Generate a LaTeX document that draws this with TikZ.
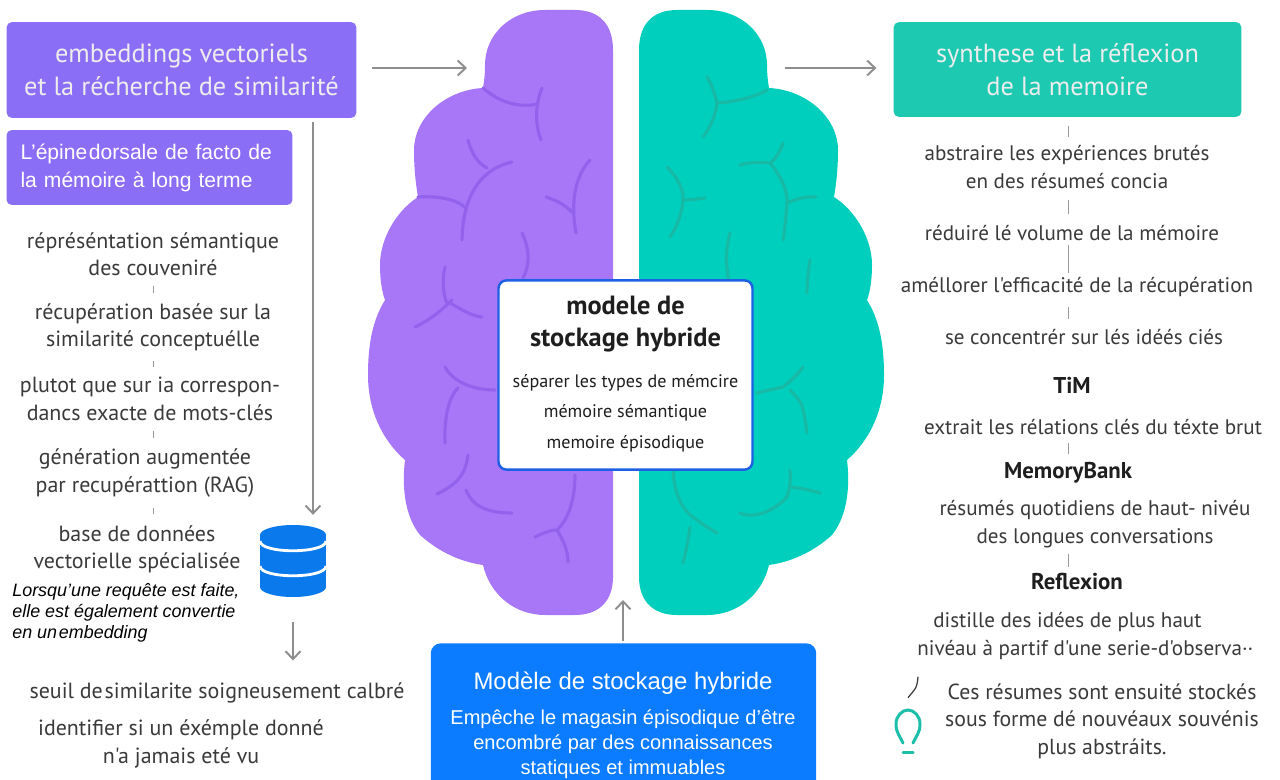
\documentclass[tikz,border=0pt]{standalone}
\usepackage{fontspec}
\setmainfont{Liberation Sans}
\newfontfamily\gfont{PT Sans}
\usetikzlibrary{calc,arrows.meta}

\definecolor{boxpurple}{HTML}{8B6EF6}
\definecolor{brainpurple}{HTML}{A877F8}
\definecolor{foldpurple}{HTML}{9362EC}
\definecolor{boxteal}{HTML}{1EC9B1}
\definecolor{brainteal}{HTML}{00CFBD}
\definecolor{foldteal}{HTML}{17B9A5}
\definecolor{hybblue}{HTML}{0B7BFF}
\definecolor{dbblue}{HTML}{0A79EC}
\definecolor{frameblue}{HTML}{1E60E4}
\definecolor{txtgray}{HTML}{3A3A3A}
\definecolor{txtdark}{HTML}{1E1E1E}
\definecolor{arrgray}{HTML}{8E8E8E}
\definecolor{tickgray}{HTML}{9A9A9A}
\definecolor{bulbteal}{HTML}{1DBFAA}

% one pixel of the 1280 x 780 canvas
\newdimen\pxu
\pxu=0.5669pt

% short link mark between two stacked text blocks, on a given column
\newcommand\tk[4]{%
  \draw[tickln] ($(#1.south -| #3)!#4!(#2.north -| #3)$) -- ($(#2.north -| #3)!#4!(#1.south -| #3)$);}

% outline of the left hemisphere (the right one is its mirror image)
\newcommand\hemipath{%
  (613,50) .. controls (613,25) and (600,10) .. (575,10) -- (545,10)
  .. controls (510,10) and (485,35) .. (485,65) .. controls (485,75) and (484,82) .. (483,88)
  .. controls (445,90) and (414,118) .. (414,150) .. controls (414,170) and (416,185) .. (418,197)
  .. controls (395,212) and (380,240) .. (380,265) .. controls (380,280) and (382,292) .. (385,300)
  .. controls (374,318) and (368,340) .. (368,375) .. controls (368,410) and (382,440) .. (405,460)
  .. controls (402,485) and (404,515) .. (420,535) .. controls (440,553) and (462,562) .. (483,565)
  .. controls (490,595) and (515,615) .. (545,615) -- (575,615)
  .. controls (600,615) and (613,600) .. (613,577) -- cycle}

\tikzset{
  gtext/.style={text=txtgray, font=\gfont\fontsize{12}{15.6}\selectfont, align=center, inner sep=0pt},
  ltext/.style={gtext, font=\gfont\fontsize{12.5}{15.6}\selectfont},
  gbold/.style={text=txtdark, font=\gfont\bfseries\fontsize{13}{15}\selectfont, inner sep=0pt},
  tickln/.style={draw=tickgray, line width=0.55pt},
  arr/.style={draw=arrgray, line width=1.1pt, -{Straight Barb[length=4.5pt,width=8.5pt]}},
  hdrbox/.style={rounded corners=5\pxu, text=white!93!black, align=center, inner sep=0pt,
    font=\gfont\fontsize{15}{18.7}\selectfont},
  foldP/.style={draw=foldpurple, line width=1.8pt, line cap=round},
  foldT/.style={draw=foldteal, line width=1.8pt, line cap=round},
}

\begin{document}
\begin{tikzpicture}[x=0.02cm, y=-0.02cm]
\clip (0,0) rectangle (1280,780);
\fill[white] (0,0) rectangle (1280,780);

% ---- brain ----
\fill[brainpurple] \hemipath;
\begin{scope}[shift={(1252,0)}, xscale=-1]
  \fill[brainteal] \hemipath;
\end{scope}

% folds, left hemisphere
\draw[foldP] (483,88) .. controls (500,103) and (520,108) .. (537,104);
\draw[foldP] (542,88) .. controls (535,105) and (535,125) .. (541,140);
\draw[foldP] (468,140) .. controls (472,155) and (478,163) .. (487,168);
\draw[foldP] (512,162) .. controls (485,168) and (463,190) .. (462,240);
\draw[foldP] (418,197) .. controls (435,196) and (455,198) .. (466,208);
\draw[foldP] (590,160) .. controls (576,175) and (570,200) .. (576,233);
\draw[foldP] (546,197) .. controls (556,200) and (565,205) .. (572,212);
\draw[foldP] (522,233) .. controls (530,250) and (530,265) .. (523,278);
\draw[foldP] (445,267) .. controls (442,280) and (443,295) .. (447,303);
\draw[foldP] (415,327) .. controls (430,320) and (442,310) .. (452,300);
\draw[foldP] (450,303) .. controls (462,310) and (472,316) .. (482,317);
\draw[foldP] (445,367) .. controls (452,380) and (470,390) .. (495,390);
\draw[foldP] (458,388) .. controls (448,398) and (444,420) .. (445,443);
\draw[foldP] (468,455) .. controls (466,470) and (462,482) .. (437,494);
\draw[foldP] (466,490) .. controls (472,505) and (485,513) .. (512,513);
\draw[foldP] (535,537) .. controls (545,532) and (552,530) .. (557,530);
\draw[foldP] (575,475) .. controls (575,500) and (568,520) .. (557,530) .. controls (563,540) and (568,550) .. (568,562);

% folds, right hemisphere
\draw[foldT] (707,77) .. controls (714,88) and (716,100) .. (717,103) .. controls (716,115) and (710,128) .. (703,137);
\draw[foldT] (717,103) .. controls (735,102) and (755,97) .. (767,90);
\draw[foldT] (783,143) .. controls (780,152) and (775,160) .. (770,163);
\draw[foldT] (740,165) .. controls (750,162) and (762,162) .. (770,163) .. controls (780,175) and (788,190) .. (787,203) .. controls (786,215) and (785,228) .. (783,240);
\draw[foldT] (787,203) .. controls (796,199) and (806,196) .. (816,197);
\draw[foldT] (667,167) .. controls (678,178) and (684,190) .. (683,200) .. controls (682,215) and (676,228) .. (670,237);
\draw[foldT] (683,200) .. controls (690,200) and (698,199) .. (705,198);
\draw[foldT] (730,233) .. controls (726,248) and (726,262) .. (727,267) .. controls (728,280) and (730,290) .. (733,300);
\draw[foldT] (810,260) .. controls (808,272) and (807,283) .. (807,293);
\draw[foldT] (757,393) .. controls (768,390) and (776,389) .. (783,387) .. controls (792,380) and (798,374) .. (803,367);
\draw[foldT] (790,390) .. controls (798,398) and (803,405) .. (803,410) .. controls (805,418) and (806,426) .. (807,433);
\draw[foldT] (673,470) .. controls (674,490) and (680,510) .. (697,520) .. controls (705,526) and (712,530) .. (717,533);
\draw[foldT] (690,527) .. controls (688,540) and (686,552) .. (683,563);
\draw[foldT] (740,513) .. controls (750,518) and (770,515) .. (787,497) .. controls (790,488) and (791,478) .. (790,470);
\draw[foldT] (790,487) .. controls (800,488) and (810,490) .. (820,493);

% reference points on the brain and column guides
\coordinate (brainL) at (467,68);
\coordinate (brainR) at (785,68);
\coordinate (brainB) at (623,600);
\coordinate (lcol) at (153,0);
\coordinate (rcol) at (1068,0);
\coordinate (dcol) at (313,0);

% ---- header boxes ----
\node[hdrbox, fill=boxpurple, minimum width=351\pxu, minimum height=96\pxu] (emb) at (181.5,70)
  {embeddings vectoriels\\et la récherche de similarité};
\node[hdrbox, fill=boxteal, minimum width=349\pxu, minimum height=95\pxu] (syn) at (1067.5,69.5)
  {synthese et la réflexion\\de la memoire};
\node[rounded corners=5\pxu, fill=boxpurple, text=white, align=left, inner xsep=14\pxu, inner ysep=0pt,
  text width=259\pxu, minimum height=75\pxu, font=\fontsize{12}{16}\selectfont] (epine) at (149.5,167.5)
  {L’épine\hspace{0.08em}dorsale de facto de\\la mémoire à long terme};

% ---- left column ----
\node[ltext] (l1) at (153,254) {répréséntation sémantique\\des couveniré};
\node[ltext] (l2) at (153,327) {récupération basée sur la\\similarité conceptuélle};
\node[ltext] (l3) at (150,399) {plutot que sur ia correspon-\\dancs exacte de mots-clés};
\node[ltext] (l4) at (145,473) {génération augmentée\\par recupérattion (RAG)};
\node[ltext] (l5) at (137,549) {base de données\\vectorielle spécialisée};
\node[anchor=west, inner sep=0pt, align=left, text=black, font=\itshape\fontsize{10.2}{11.9}\selectfont] (note) at (12,613)
  {Lorsqu'une requête est faite,\\elle est également convertie\\en un\hspace{0.1em}embedding};
\node[ltext] (l6) at (217,693) {seuil de\hspace{0.08em}similarite soigneusement calbré};
\node[ltext] (l7) at (181,744) {identifier si un éxémple donné\\n'a jamais eté vu};

\tk{l1}{l2}{lcol}{0.38}
\tk{l2}{l3}{lcol}{0.38}
\tk{l3}{l4}{lcol}{0.38}
\tk{l4}{l5}{lcol}{0.38}

% vector database
\node[minimum width=66\pxu, minimum height=72\pxu, inner sep=0pt] (db) at (293,561) {};
\fill[dbblue] (260,535) rectangle (326,587);
\fill[dbblue] (293,535) ellipse [x radius=33, y radius=10];
\fill[dbblue] (293,587) ellipse [x radius=33, y radius=10];
\draw[white, line width=1.6pt] (260,541) .. controls (260,554) and (326,554) .. (326,541);
\draw[white, line width=1.6pt] (260,566) .. controls (260,579) and (326,579) .. (326,566);

\draw[arr, shorten <=4\pxu, shorten >=10\pxu] (emb.south -| dcol) -- (db.north -| dcol);
\draw[arr, shorten <=25\pxu, shorten >=22\pxu] (db.south) -- (db.south |- l6.north);

% ---- centre ----
\node[draw=frameblue, line width=1.4pt, fill=white, rounded corners=8\pxu, minimum width=255\pxu,
  minimum height=190\pxu, inner sep=0pt] (hyb) at (625.5,375) {};
\node[align=center, inner sep=0pt, text=txtdark, font=\gfont\bfseries\fontsize{15}{17.8}\selectfont] (hybT) at (625.5,324)
  {modele de\\stockage hybride};
\node[align=center, inner sep=0pt, text=txtdark, font=\gfont\fontsize{10.3}{17.3}\selectfont] (hybL) at (625.5,413)
  {séparer les types de mémcire\\mémoire sémantique\\memoire épisodique};

\node[fill=hybblue, rounded corners=10\pxu, minimum width=387\pxu, minimum height=152\pxu] (bluebox) at (623.5,719) {};
\node[text=white, inner sep=0pt, font=\fontsize{13.6}{16}\selectfont] (btitle) at (623,683) {Modèle de stockage hybride};
\node[text=white, inner sep=0pt, align=center, font=\fontsize{11.4}{14.2}\selectfont] (bbody) at (623,744)
  {Empêche le magasin épisodique d’être\\encombré par des connaissances\\statiques et immuables};

\draw[arr] (emb.east |- brainL) ++(15,0) -- (brainL);
\draw[arr, shorten >=17\pxu] (brainR) -- (syn.west |- brainR);
\draw[arr, shorten <=2\pxu] (bluebox.north -| brainB) -- (brainB);

% ---- right column ----
\node[gtext] (r1) at (1067,167) {abstraire les expériences brutés\\en des résumeś concia};
\node[gtext] (r2) at (1072,233) {réduiré lé volume de la mémoire};
\node[gtext] (r3) at (1077,287) {améllorer l'efficacité de la récupération};
\node[gtext] (r4) at (1084,337) {se concentrér sur lés idéés ciés};
\node[gbold] (tim) at (1072,385) {TiM};
\node[gtext] (r5) at (1093,427) {extrait les rélations clés du téxte brut};
\node[gbold] (mb) at (1068,473) {MemoryBank};
\node[gtext] (r6) at (1095,524) {résumés quotidiens de haut- nivéu\\des longues conversations};
\node[gbold] (rf) at (1077,582) {Reflexion};
\node[gtext, align=left, anchor=west] (r7) at (917,636)
  {\hspace*{16\pxu}distille des idées de plus haut\\nivéau à partif d'une serie-d'observa··};
\node[gtext, font=\gfont\fontsize{12.4}{15.6}\selectfont] (r8) at (1102,721) {Ces résumes sont ensuité stockés\\sous forme dé nouvéaux souvénis\\plus abstráits.};

\tk{syn}{r1}{rcol}{0.3}
\tk{r1}{r2}{rcol}{0.3}
\tk{r2}{r3}{rcol}{0.12}
\tk{r3}{r4}{rcol}{0.3}
\tk{r5}{mb}{rcol}{0.3}
\tk{r6}{rf}{rcol}{0.25}

% idea bulb
\node[minimum width=26\pxu, minimum height=46\pxu, inner sep=0pt] (bulb) at (908,731) {};
\draw[bulbteal, line width=1.7pt, line cap=round]
  (903,743) .. controls (900,736) and (896,733) .. (896,724)
  .. controls (896,716) and (902,710) .. (908,710)
  .. controls (914,710) and (920,716) .. (920,724)
  .. controls (920,733) and (916,736) .. (913,743);
\draw[bulbteal, line width=1.7pt, line cap=round] (903,752) -- (913,752);
\draw[txtgray, line width=0.7pt] ($(r7.south west)+(1,17)$) .. controls ($(r7.south west)+(0,30)$) and ($(bulb.north)+(6,-18)$) .. ($(bulb.north)+(0,-10)$);
\end{tikzpicture}
\end{document}
